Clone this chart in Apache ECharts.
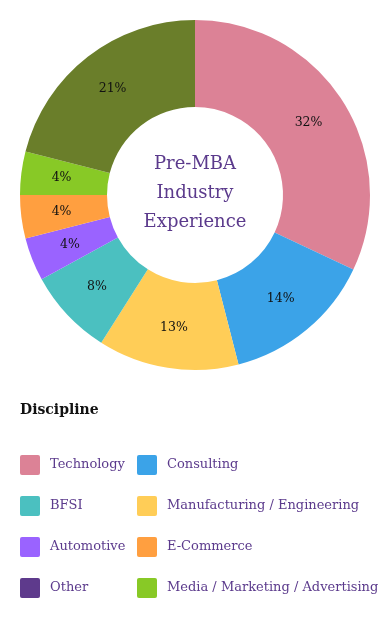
<!DOCTYPE html>
<html><head><meta charset="utf-8">
<script src="https://cdn.jsdelivr.net/npm/echarts@6/dist/echarts.min.js"></script>
<style>html,body{margin:0;padding:0;background:#fff}#c{width:390px;height:630px}</style>
</head><body><div id="c"></div>
<script>
var categories = ['Technology','Consulting','Manufacturing / Engineering','BFSI','Automotive','E-Commerce','Media / Marketing / Advertising','Other'];
var values = [32,14,13,8,4,4,4,21];
var sliceColors = ['#dc8296','#3ba3e8','#ffcd57','#4bc0c0','#9a63ff','#ff9f40','#88c926','#6a7e2a'];
var legendColors = ['#dc8296','#3ba3e8','#ffcd57','#4bc0c0','#9a63ff','#ff9f40','#88c926','#5e3a8c'];
var col1 = ['Technology','BFSI','Automotive','Other'];
var col2 = ['Consulting','Manufacturing / Engineering','E-Commerce','Media / Marketing / Advertising'];

var font = '"DejaVu Serif", "Liberation Serif", serif';
function legendData(list){
  return list.map(function(n){ var i = categories.indexOf(n); return {name:n, itemStyle:{color:legendColors[i]}}; });
}
function mkLegend(list, left){
  return {orient:'vertical', left:left, top:455, padding:0, itemWidth:20, itemHeight:20, itemGap:21,
    icon:'path://M2,0 L18,0 Q20,0 20,2 L20,18 Q20,20 18,20 L2,20 Q0,20 0,18 L0,2 Q0,0 2,0 Z',
    selectedMode:false, data:legendData(list),
    textStyle:{fontFamily:font, fontSize:13, color:'#5b3a8c', padding:[0,0,0,5]}};
}
var chart = echarts.init(document.getElementById('c'), null, {renderer:'canvas'});
chart.setOption({
  backgroundColor:'#fff',
  animation:false,
  title:[
    {text:'Pre-MBA\nIndustry\nExperience', left:195, top:150, padding:0, textAlign:'center',
     textStyle:{fontFamily:font, fontSize:18, fontWeight:'normal', color:'#5b3a8c', lineHeight:29}},
    {text:'Discipline', left:20, top:403, padding:0,
     textStyle:{fontFamily:font, fontSize:14, fontWeight:'bold', color:'#111'}}
  ],
  legend:[mkLegend(col1,20), mkLegend(col2,137)],
  series:[{
    type:'pie', center:[195,195], radius:[88,175], startAngle:90, clockwise:true,
    avoidLabelOverlap:false,
    label:{show:true, position:'inside', formatter:'{c}%', fontFamily:font, fontSize:12.5, color:'#111'},
    labelLine:{show:false},
    itemStyle:{borderWidth:0},
    data:categories.map(function(n,i){ return {name:n, value:values[i], itemStyle:{color:sliceColors[i]}}; })
  }]
});
</script></body></html>
